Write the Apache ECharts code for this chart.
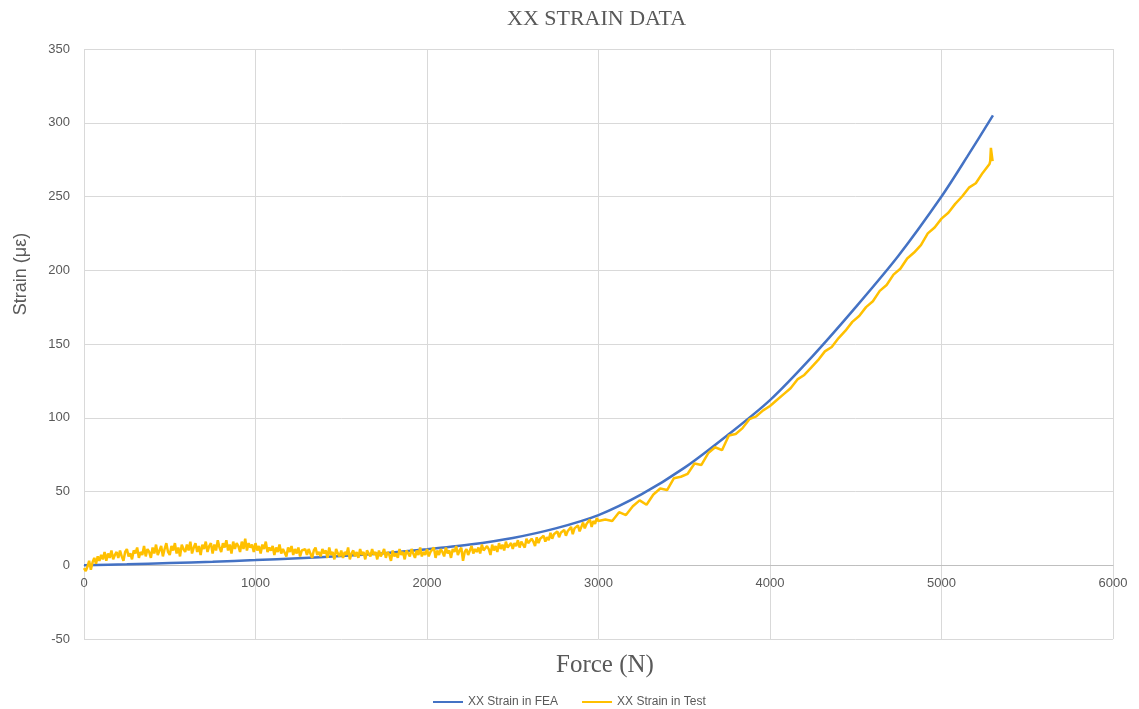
<!DOCTYPE html>
<html>
<head>
<meta charset="utf-8">
<script src="https://cdn.jsdelivr.net/npm/echarts@6/dist/echarts.min.js"></script>
<style>
html,body{margin:0;padding:0;background:#fff;}
#chart{width:1139px;height:709px;}
</style>
</head>
<body>
<div id="chart"></div>
<script>
// ---- data ----
var titleText = "XX STRAIN DATA";
var xAxisName = "Force (N)";
var yAxisName = "Strain (\u03bc\u03b5)";
var seriesNames = ["XX Strain in FEA", "XX Strain in Test"];

// FEA curve (force N, strain)
var feaForce  = [0, 250, 500, 750, 1000, 1250, 1500, 1750, 2000, 2250, 2500, 2750, 3000, 3250, 3500, 3750, 4000, 4250, 4500, 4750, 5000, 5150, 5300];
var feaStrain = [0, 0.6, 1.5, 2.4, 3.5, 4.8, 6.2, 8.2, 10.8, 14, 18.5, 25, 34, 48, 66, 88, 112, 142, 175, 210, 250, 277, 305];

// Test measurement, part 1: 0..3000 N, sampled every 10 N
var testStart1 = 0, testStep1 = 10;
var testStrain1 = [
 -2,-4,-1,3,-3,2,5,1,6,3,
 7,4,9,3,8,5,10,4,7,9,
 5,10,6,3,9,11,6,8,4,10,
 8,12,5,9,7,13,6,11,9,5,
 12,8,14,7,10,13,6,11,15,9,
 7,13,10,15,8,12,6,14,11,9,
 14,10,16,8,12,15,9,13,7,14,
 11,16,9,13,15,8,14,10,17,12,
 9,15,12,17,10,14,8,16,11,15,
 13,9,16,11,18,10,15,12,14,9,
 15,10,13,8,14,11,16,9,12,10,
 13,7,12,9,14,8,11,10,6,12,
 9,13,7,11,8,12,6,10,9,11,
 7,11,8,5,10,12,7,9,6,11,
 8,10,5,12,7,9,4,11,8,6,
 10,5,9,7,12,4,8,10,6,9,
 5,11,7,9,4,10,8,6,11,7,
 9,4,10,6,8,11,5,9,7,3,
 10,6,8,5,11,7,9,4,10,8,
 6,11,8,5,10,7,12,6,9,7,
 11,6,9,8,12,5,10,7,11,9,
 6,12,8,10,5,11,9,13,7,10,
 12,3,9,11,7,10,13,8,11,9,
 12,8,14,10,9,13,11,7,14,10,
 13,9,15,11,14,10,16,12,13,15,
 11,15,13,17,12,16,14,12,18,15,
 14,18,16,13,19,15,18,17,20,16,
 19,17,22,18,21,20,23,19,22,21,
 24,20,23,22,26,21,25,24,27,23,
 26,29,25,28,27,31,26,30,28,32,
 30
];
// Test measurement, part 2: 3040..5280 N, sampled every 40 N
var testStart2 = 3040, testStep2 = 40;
var testStrain2 = [
 31,30,36,34,40,44,41,48,52,51,
 59,60,62,69,68,76,80,78,88,89,
 93,99,101,105,108,112,116,120,126,129,
 134,139,145,148,154,159,165,169,175,179,
 186,190,197,201,208,212,217,225,229,235,
 239,245,250,256,259,266,272
];
// Test measurement, tail points
var testTailForce  = [5284, 5288, 5292, 5296, 5298];
var testTailStrain = [274, 283, 282, 283, 274];

// axis settings
var xMin = 0, xMax = 6000, xInterval = 1000;
var yMin = -50, yMax = 350, yInterval = 50;

// ---- build ----
var feaData = feaForce.map(function(f, i){ return [f, feaStrain[i]]; });
var testData = [];
testStrain1.forEach(function(v, i){ testData.push([testStart1 + i*testStep1, v]); });
testStrain2.forEach(function(v, i){ testData.push([testStart2 + i*testStep2, v]); });
testTailForce.forEach(function(f, i){ testData.push([f, testTailStrain[i]]); });

var chart = echarts.init(document.getElementById('chart'), null, {renderer:'canvas'});
var labelColor = '#595959';
var gridColor = '#d9d9d9';
var gridTop = 49, gridBottom = 70, chartH = 709;
var plotH = chartH - gridTop - gridBottom;
var zeroOffset = -plotH * (0 - yMin) / (yMax - yMin);

chart.setOption({
  backgroundColor: '#ffffff',
  animation: false,
  title: {
    text: titleText,
    left: 502,
    top: 3,
    textStyle: { fontFamily: 'Liberation Serif', fontSize: 22, fontWeight: 'normal', color: labelColor }
  },
  grid: { left: 84, right: 26, top: gridTop, bottom: gridBottom, containLabel: false },
  xAxis: [{
    type: 'value', min: xMin, max: xMax, interval: xInterval,
    position: 'bottom', offset: zeroOffset,
    axisLine: { show: true, onZero: false, lineStyle: { color: '#bfbfbf', width: 1 } },
    axisTick: { show: false },
    axisLabel: { color: labelColor, fontFamily: 'Liberation Sans', fontSize: 13, margin: 12,
                 formatter: function(v){ return String(v); } },
    splitLine: { show: true, lineStyle: { color: gridColor, width: 1 } }
  }],
  yAxis: {
    type: 'value', min: yMin, max: yMax, interval: yInterval,
    axisLine: { show: false },
    axisTick: { show: false },
    axisLabel: { color: labelColor, fontFamily: 'Liberation Sans', fontSize: 13, margin: 14,
                 formatter: function(v){ return String(v); } },
    splitLine: { show: true, lineStyle: { color: gridColor, width: 1 } }
  },
  legend: {
    top: 691, left: 428,
    itemWidth: 30, itemHeight: 2, itemGap: 24,
    icon: 'rect',
    textStyle: { color: labelColor, fontFamily: 'Liberation Sans', fontSize: 12 },
    data: seriesNames
  },
  graphic: [
    { type: 'text', left: 556, top: 653,
      style: { text: xAxisName, fill: labelColor, font: '25px "Liberation Serif"' } },
    { type: 'text', x: 21, y: 274, rotation: Math.PI/2,
      style: { text: yAxisName, fill: labelColor, font: '18px "Liberation Sans"', align: 'center', verticalAlign: 'middle' } }
  ],
  series: [
    { name: seriesNames[0], type: 'line', data: feaData, showSymbol: false, symbol: 'none',
      smooth: 0.3, lineStyle: { color: '#4472C4', width: 2.5 }, itemStyle: { color: '#4472C4' }, z: 2 },
    { name: seriesNames[1], type: 'line', data: testData, showSymbol: false, symbol: 'none',
      sampling: null,
      lineStyle: { color: '#FFC000', width: 2.5 }, itemStyle: { color: '#FFC000' }, z: 3 }
  ]
});
</script>
</body>
</html>
